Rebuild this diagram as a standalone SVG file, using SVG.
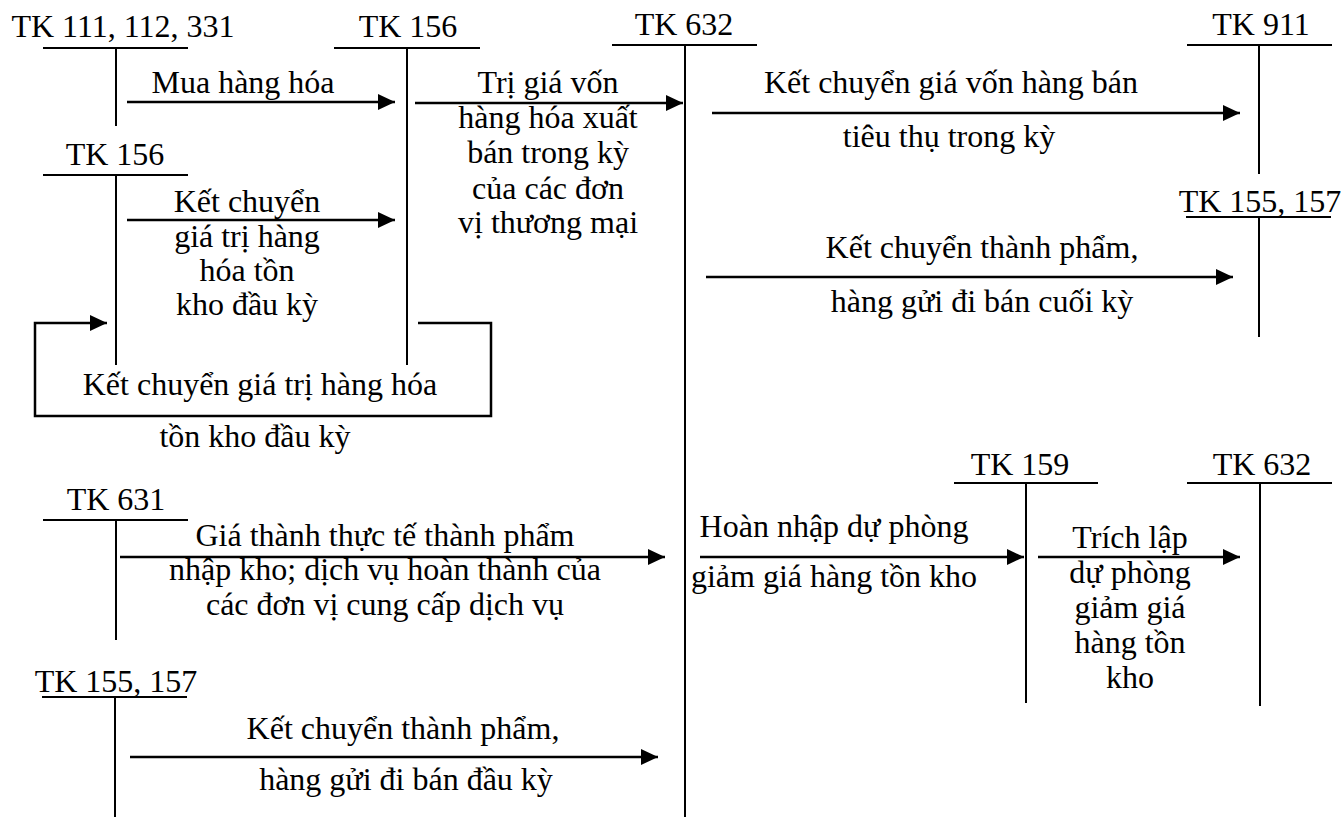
<svg xmlns="http://www.w3.org/2000/svg" width="1342" height="817" viewBox="0 0 1342 817">
<style>
text{font-family:"Liberation Serif","Times New Roman",serif;font-size:32px;fill:#000;text-anchor:middle}
.t{stroke:#000;stroke-width:2;fill:none}
.c{stroke:#000;stroke-width:2.5;fill:none}
</style>
<defs>
<marker id="ah" markerUnits="userSpaceOnUse" markerWidth="17" markerHeight="16" refX="17" refY="8" orient="auto">
<path d="M0,0 L17,8 L0,16 z" fill="#000"/>
</marker>
</defs>
<rect width="1342" height="817" fill="#fff"/>

<g id="tk111">
<text x="123" y="37">TK 111, 112, 331</text>
<path class="t" d="M43,48 H188 M116,48 V126"/>
</g>
<g id="tk156top">
<text x="408" y="37">TK 156</text>
<path class="t" d="M334,48 H480 M407,48 V365"/>
</g>
<g id="tk632main">
<text x="684" y="35">TK 632</text>
<path class="t" d="M612,45 H757 M685,45 V817"/>
</g>
<g id="tk911">
<text x="1261" y="35">TK 911</text>
<path class="t" d="M1187,45 H1332 M1259,45 V174"/>
</g>
<g id="tk155right">
<text x="1260" y="212">TK 155, 157</text>
<path class="t" d="M1186,217 H1331 M1259,217 V337"/>
</g>
<g id="tk156left">
<text x="115" y="165">TK 156</text>
<path class="t" d="M43,175 H188 M116,175 V365"/>
</g>
<g id="tk631">
<text x="116" y="510">TK 631</text>
<path class="t" d="M43,520 H188 M116,520 V640"/>
</g>
<g id="tk155bottom">
<text x="116" y="692">TK 155, 157</text>
<path class="t" d="M42,697 H187 M115,697 V817"/>
</g>
<g id="tk159">
<text x="1020" y="475">TK 159</text>
<path class="t" d="M954,483 H1098 M1026,483 V703"/>
</g>
<g id="tk632right">
<text x="1262" y="475">TK 632</text>
<path class="t" d="M1187,483 H1332 M1260,483 V706"/>
</g>

<g id="connectors">
<path class="c" d="M127,102 H395" marker-end="url(#ah)"/>
<path class="c" d="M127,220 H395" marker-end="url(#ah)"/>
<path class="c" d="M418,323 H491 V416 H35 V323 H107" marker-end="url(#ah)"/>
<path class="c" d="M415,103 H683" marker-end="url(#ah)"/>
<path class="c" d="M712,113 H1240" marker-end="url(#ah)"/>
<path class="c" d="M706,277 H1233" marker-end="url(#ah)"/>
<path class="c" d="M120,557 H665" marker-end="url(#ah)"/>
<path class="c" d="M130,757 H658" marker-end="url(#ah)"/>
<path class="c" d="M700,557 H1024" marker-end="url(#ah)"/>
<path class="c" d="M1038,557 H1240" marker-end="url(#ah)"/>

<text x="243" y="93">Mua hàng hóa</text>
<text x="247" y="212">Kết chuyển</text>
<text x="247" y="247">giá trị hàng</text>
<text x="247" y="281">hóa tồn</text>
<text x="247" y="315">kho đầu kỳ</text>
<text x="260" y="395">Kết chuyển giá trị hàng hóa</text>
<text x="255" y="447">tồn kho đầu kỳ</text>
<text x="548" y="93">Trị giá vốn</text>
<text x="548" y="128">hàng hóa xuất</text>
<text x="548" y="163">bán trong kỳ</text>
<text x="548" y="199">của các đơn</text>
<text x="548" y="233">vị thương mại</text>
<text x="951" y="93">Kết chuyển giá vốn hàng bán</text>
<text x="949" y="147">tiêu thụ trong kỳ</text>
<text x="982" y="258">Kết chuyển thành phẩm,</text>
<text x="982" y="312">hàng gửi đi bán cuối kỳ</text>
<text x="385" y="546">Giá thành thực tế thành phẩm</text>
<text x="385" y="580">nhập kho; dịch vụ hoàn thành của</text>
<text x="385" y="615">các đơn vị cung cấp dịch vụ</text>
<text x="403" y="739">Kết chuyển thành phẩm,</text>
<text x="406" y="790">hàng gửi đi bán đầu kỳ</text>
<text x="834" y="537">Hoàn nhập dự phòng</text>
<text x="834" y="587">giảm giá hàng tồn kho</text>
<text x="1130" y="548">Trích lập</text>
<text x="1130" y="583">dự phòng</text>
<text x="1130" y="618">giảm giá</text>
<text x="1130" y="653">hàng tồn</text>
<text x="1130" y="688">kho</text>
</g>
</svg>
